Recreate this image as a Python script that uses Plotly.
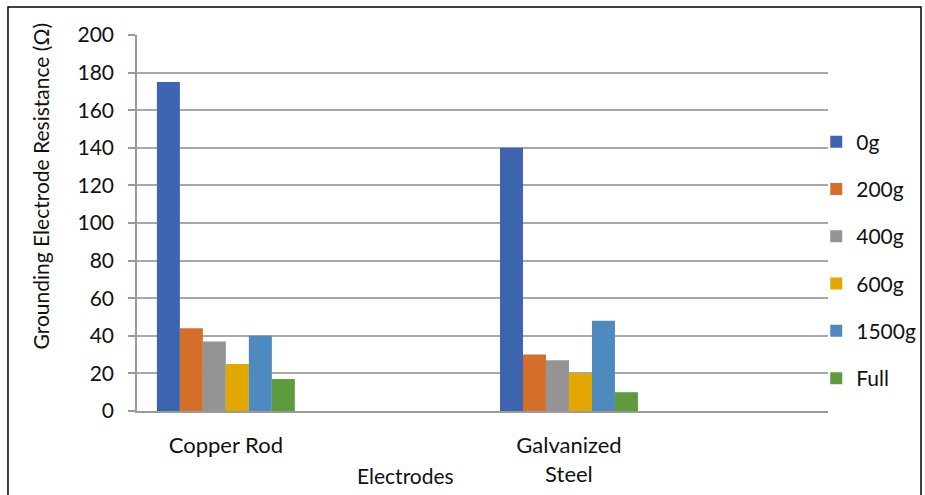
import plotly.graph_objects as go

# Electrode types (x categories) and the soil-treatment series
electrodes = ["Copper Rod", "Galvanized<br>Steel"]
series_names = ["0g", "200g", "400g", "600g", "1500g", "Full"]
resistance = {
    "0g": [175, 140],
    "200g": [44, 30],
    "400g": [37, 27],
    "600g": [25, 20],
    "1500g": [40, 48],
    "Full": [17, 10],
}
series_colors = ["#3D64AE", "#D46E2B", "#949494", "#E2A800", "#4E8ABE", "#5E9A3E"]
y_ticks = [0, 20, 40, 60, 80, 100, 120, 140, 160, 180, 200]

FONT = "Lato"
TEXT = "#111111"
FS = 21

fig = go.Figure()
for name, color in zip(series_names, series_colors):
    fig.add_trace(go.Bar(
        x=electrodes,
        y=resistance[name],
        name=name,
        legendgroup=name,
        marker=dict(color=color, line=dict(width=0)),
    ))

fig.update_layout(
    width=925,
    height=495,
    margin=dict(l=137, r=97, t=35, b=84, autoexpand=False),
    paper_bgcolor="white",
    plot_bgcolor="white",
    barmode="group",
    bargap=0.598,
    bargroupgap=0,
    font=dict(family=FONT, size=FS, color=TEXT),
    showlegend=True,
    legend=dict(
        x=0.983, xanchor="left",
        y=0.77, yanchor="top",
        font=dict(family=FONT, size=FS, color=TEXT),
        tracegroupgap=17,
        itemwidth=30,
        bgcolor="rgba(0,0,0,0)",
    ),
    xaxis=dict(
        type="category",
        range=[-0.259, 1.755],
        showgrid=False,
        showline=True,
        linecolor="#9a9a9a",
        linewidth=1.5,
        ticks="",
        ticklabelstandoff=14,
        tickfont=dict(family=FONT, size=22, color=TEXT),
        zeroline=False,
    ),
    yaxis=dict(
        range=[0, 200],
        tickvals=y_ticks,
        showgrid=True,
        gridcolor="#a8a8a8",
        gridwidth=1.5,
        showline=True,
        linecolor="#9a9a9a",
        linewidth=1.5,
        ticks="outside",
        ticklen=7,
        tickcolor="#9a9a9a",
        tickwidth=1.5,
        ticklabelstandoff=10,
        tickfont=dict(family=FONT, size=FS, color=TEXT),
        zeroline=False,
    ),
    annotations=[
        dict(
            text="Grounding Electrode Resistance (Ω)",
            xref="paper", yref="paper",
            x=-0.139, y=0.597,
            xanchor="center", yanchor="middle",
            textangle=-90, showarrow=False,
            font=dict(family=FONT, size=FS, color=TEXT),
        ),
        dict(
            text="Electrodes",
            xref="paper", yref="paper",
            x=0.389, y=-0.172,
            xanchor="center", yanchor="middle",
            showarrow=False,
            font=dict(family=FONT, size=FS, color=TEXT),
        ),
    ],
    shapes=[
        dict(
            type="rect", xref="paper", yref="paper",
            x0=-0.1867, x1=1.1346, y0=-0.3, y1=1.0745,
            line=dict(color="black", width=1.5),
            fillcolor="rgba(0,0,0,0)", layer="below",
        ),
    ],
)

fig.write_html("out.html")
